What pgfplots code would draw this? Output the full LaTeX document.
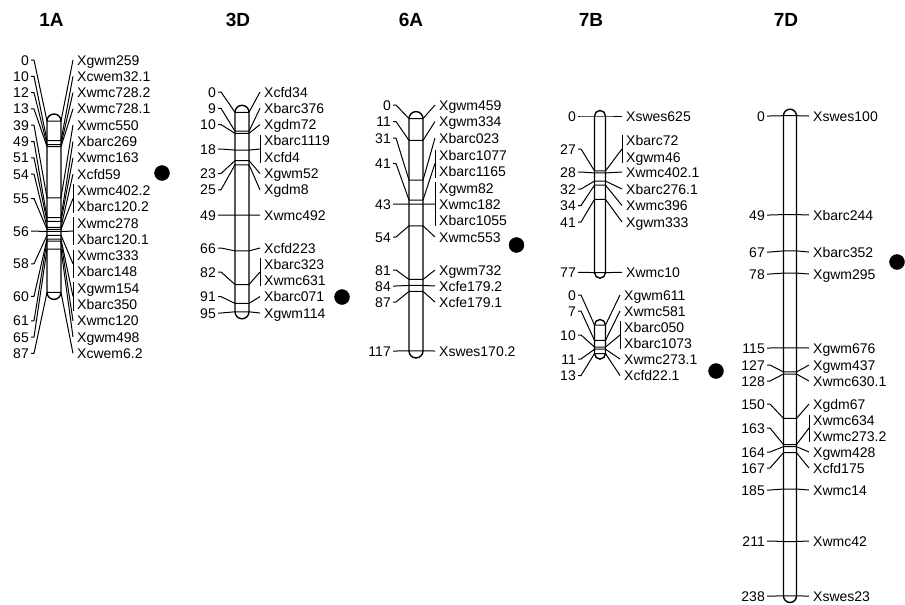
\documentclass[border=0pt]{standalone}
\usepackage{fontspec}
\setmainfont{Liberation Sans}
\usepackage{pgfplots}
\pgfplotsset{compat=1.18}
\tikzset{
 ldr/.style={black, line width=1pt, line join=round},
 num/.style={anchor=base east, inner sep=0pt, font=\fontsize{14}{14}\selectfont},
 lbl/.style={anchor=base west, inner sep=0pt, font=\fontsize{14}{14}\selectfont},
 ttl/.style={anchor=base, inner sep=0pt, font=\fontsize{19}{19}\selectfont\bfseries},
}
% chromosome set-up: centre x, half width, y of 0 cM, px per cM, number leader start x, label start x
\newcommand\setchr[6]{\def\cX{#1}\def\cW{#2}\def\cY{#3}\def\cS{#4}\def\cN{#5}\def\cL{#6}%
 \pgfmathsetmacro\cBl{#1-#2}\pgfmathsetmacro\cBr{#1+#2}%
 \pgfmathsetmacro\cNs{#5+3}\pgfmathsetmacro\cXr{#6-4}\pgfmathsetmacro\cNt{#5-2}}
% marker: cM, y of number, y of right end, number text
\newcommand\mk[4]{%
 \pgfmathsetmacro\ym{\cY+\cS*#1}\pgfmathsetmacro\ynb{#2+5}%
 \edef\tmp{\noexpand\addplot[ldr, forget plot] coordinates {(\cN,#2) (\cNs,#2) (\cBl,\ym) (\cBr,\ym) (\cXr,#3)};%
  \noexpand\node[num] at (axis cs:\cNt,\ynb) {#4};}\tmp}
\newcommand\lab[2]{\pgfmathsetmacro\yb{#1+5}%
 \edef\tmp{\noexpand\node[lbl] at (axis cs:\cL,\yb) {#2};}\tmp}
\newcommand\brk[2]{\pgfmathsetmacro\ba{#1-6}\pgfmathsetmacro\bb{#2+6}%
 \edef\tmp{\noexpand\addplot[ldr, forget plot] coordinates {(\cXr,\ba) (\cXr,\bb)};}\tmp}
\newcommand\chrbar[1]{\pgfmathsetmacro\ye{\cY+\cS*#1}%
 \edef\tmp{\noexpand\draw[line width=1.4pt, fill=white] (axis cs:\cBl,\cY) -- (axis cs:\cBl,\ye) arc[start angle=180, end angle=360, radius=\cW pt] -- (axis cs:\cBr,\cY) arc[start angle=0, end angle=180, radius=\cW pt] -- cycle;}\tmp}
\begin{document}
\begin{tikzpicture}
\begin{axis}[scale only axis, width=905pt, height=605pt, xmin=0, xmax=905, ymin=0, ymax=605,
  y dir=reverse, hide axis, clip=false]
\path (axis cs:0,0) rectangle (axis cs:905,605);
% titles
\node[ttl] at (axis cs:51.5,27) {1A};
\node[ttl] at (axis cs:238,27) {3D};
\node[ttl] at (axis cs:411,27) {6A};
\node[ttl] at (axis cs:591,27) {7B};
\node[ttl] at (axis cs:786,27) {7D};
% ---------------- 1A
\setchr{54}{7}{121}{1.97}{31}{77}
\chrbar{87}
\mk{0}{60}{60}{0}
\mk{10}{76.3}{76.3}{10}
\mk{12}{92.6}{92.6}{12}
\mk{13}{108.9}{108.9}{13}
\mk{39}{125.2}{125.2}{39}
\mk{49}{141.5}{141.5}{49}
\mk{51}{157.8}{157.8}{51}
\mk{54}{174.1}{174.1}{54}
\mk{55}{198.5}{198.5}{55}\brk{190.4}{206.7}
\mk{56}{231.2}{231.2}{56}\brk{223}{239.3}
\mk{58}{263.8}{263.8}{58}\brk{255.6}{271.9}
\mk{60}{296.4}{296.4}{60}\brk{288.2}{304.5}
\mk{61}{320.8}{320.8}{61}
\mk{65}{337.1}{337.1}{65}
\mk{87}{353.4}{353.4}{87}
\lab{60}{Xgwm259}\lab{76.3}{Xcwem32.1}\lab{92.6}{Xwmc728.2}\lab{108.9}{Xwmc728.1}
\lab{125.2}{Xwmc550}\lab{141.5}{Xbarc269}\lab{157.8}{Xwmc163}\lab{174.1}{Xcfd59}
\lab{190.4}{Xwmc402.2}\lab{206.7}{Xbarc120.2}\lab{223}{Xwmc278}\lab{239.3}{Xbarc120.1}
\lab{255.6}{Xwmc333}\lab{271.9}{Xbarc148}\lab{288.2}{Xgwm154}\lab{304.5}{Xbarc350}
\lab{320.8}{Xwmc120}\lab{337.1}{Xgwm498}\lab{353.4}{Xcwem6.2}
% ---------------- 3D
\setchr{242}{7}{112.3}{2.1}{218}{264}
\chrbar{95}
\mk{0}{92}{92}{0}
\mk{9}{108.3}{108.3}{9}
\mk{10}{124.6}{124.6}{10}
\mk{18}{149}{149}{18}\brk{140.9}{157.2}
\mk{23}{173.5}{173.5}{23}
\mk{25}{189.8}{189.8}{25}
\mk{49}{215}{215}{49}
\mk{66}{248}{248}{66}
\mk{82}{272}{272}{82}\brk{264}{280.3}
\mk{91}{296.6}{296.6}{91}
\mk{95}{313}{313}{95}
\lab{92}{Xcfd34}\lab{108.3}{Xbarc376}\lab{124.6}{Xgdm72}\lab{140.9}{Xbarc1119}
\lab{157.2}{Xcfd4}\lab{173.5}{Xgwm52}\lab{189.8}{Xgdm8}\lab{215}{Xwmc492}
\lab{248}{Xcfd223}\lab{264}{Xbarc323}\lab{280.3}{Xwmc631}\lab{296.6}{Xbarc071}
\lab{313}{Xgwm114}
% ---------------- 6A
\setchr{416}{7}{118.6}{1.986}{393}{439}
\chrbar{117}
\mk{0}{105}{105}{0}
\mk{11}{121.5}{121.5}{11}
\mk{31}{138}{138}{31}
\mk{41}{163.5}{163.5}{41}\brk{155.5}{171.5}
\mk{43}{204}{204}{43}\brk{188}{220}
\mk{54}{237}{237}{54}
\mk{81}{270}{270}{81}
\mk{84}{286}{286}{84}
\mk{87}{302}{302}{87}
\mk{117}{351}{351}{117}
\lab{105}{Xgwm459}\lab{121.5}{Xgwm334}\lab{138}{Xbarc023}\lab{155.5}{Xbarc1077}
\lab{171.5}{Xbarc1165}\lab{188}{Xgwm82}\lab{204}{Xwmc182}\lab{220}{Xbarc1055}
\lab{237}{Xwmc553}\lab{270}{Xgwm732}\lab{286}{Xcfe179.2}\lab{302}{Xcfe179.1}
\lab{351}{Xswes170.2}
% ---------------- 7B (upper)
\setchr{600}{5.5}{116}{2.034}{578}{626}
\chrbar{77}
\mk{0}{116}{116}{0}
\mk{27}{149}{149}{27}\brk{140.5}{157}
\mk{28}{172}{172}{28}
\mk{32}{189}{189}{32}
\mk{34}{205.5}{205.5}{34}
\mk{41}{222}{222}{41}
\mk{77}{272.3}{272.3}{77}
\lab{116}{Xswes625}\lab{140.5}{Xbarc72}\lab{157}{Xgwm46}\lab{172}{Xwmc402.1}
\lab{189}{Xbarc276.1}\lab{205.5}{Xwmc396}\lab{222}{Xgwm333}\lab{272.3}{Xwmc10}
% ---------------- 7B (lower)
\setchr{600}{5.5}{325}{2.2}{578}{624}
\chrbar{13}
\mk{0}{295}{295}{0}
\mk{7}{311}{311}{7}
\mk{10}{335}{335}{10}\brk{327}{343}
\mk{11}{359}{359}{11}
\mk{13}{375.5}{375.5}{13}
\lab{295}{Xgwm611}\lab{311}{Xwmc581}\lab{327}{Xbarc050}\lab{343}{Xbarc1073}
\lab{359}{Xwmc273.1}\lab{375.5}{Xcfd22.1}
% ---------------- 7D
\setchr{790}{6.5}{115.7}{2.018}{767}{813}
\chrbar{238}
\mk{0}{116}{116}{0}
\mk{49}{215}{215}{49}
\mk{67}{252}{252}{67}
\mk{78}{274}{274}{78}
\mk{115}{348}{348}{115}
\mk{127}{365}{365}{127}
\mk{128}{381}{381}{128}
\mk{150}{404}{404}{150}
\mk{163}{428}{428}{163}\brk{420.5}{436}
\mk{164}{452}{452}{164}
\mk{167}{468}{468}{167}
\mk{185}{490}{490}{185}
\mk{211}{541}{541}{211}
\mk{238}{596}{596}{238}
\lab{116}{Xswes100}\lab{215}{Xbarc244}\lab{252}{Xbarc352}\lab{274}{Xgwm295}
\lab{348}{Xgwm676}\lab{365}{Xgwm437}\lab{381}{Xwmc630.1}\lab{404}{Xgdm67}
\lab{420.5}{Xwmc634}\lab{436}{Xwmc273.2}\lab{452}{Xgwm428}\lab{468}{Xcfd175}
\lab{490}{Xwmc14}\lab{541}{Xwmc42}\lab{596}{Xswes23}
% QTL dots
\addplot[only marks, mark=*, mark size=7.5pt, black, forget plot]
  coordinates {(162,173) (342,297) (516.5,245) (716,371) (897,262)};
\end{axis}
\end{tikzpicture}
\end{document}
